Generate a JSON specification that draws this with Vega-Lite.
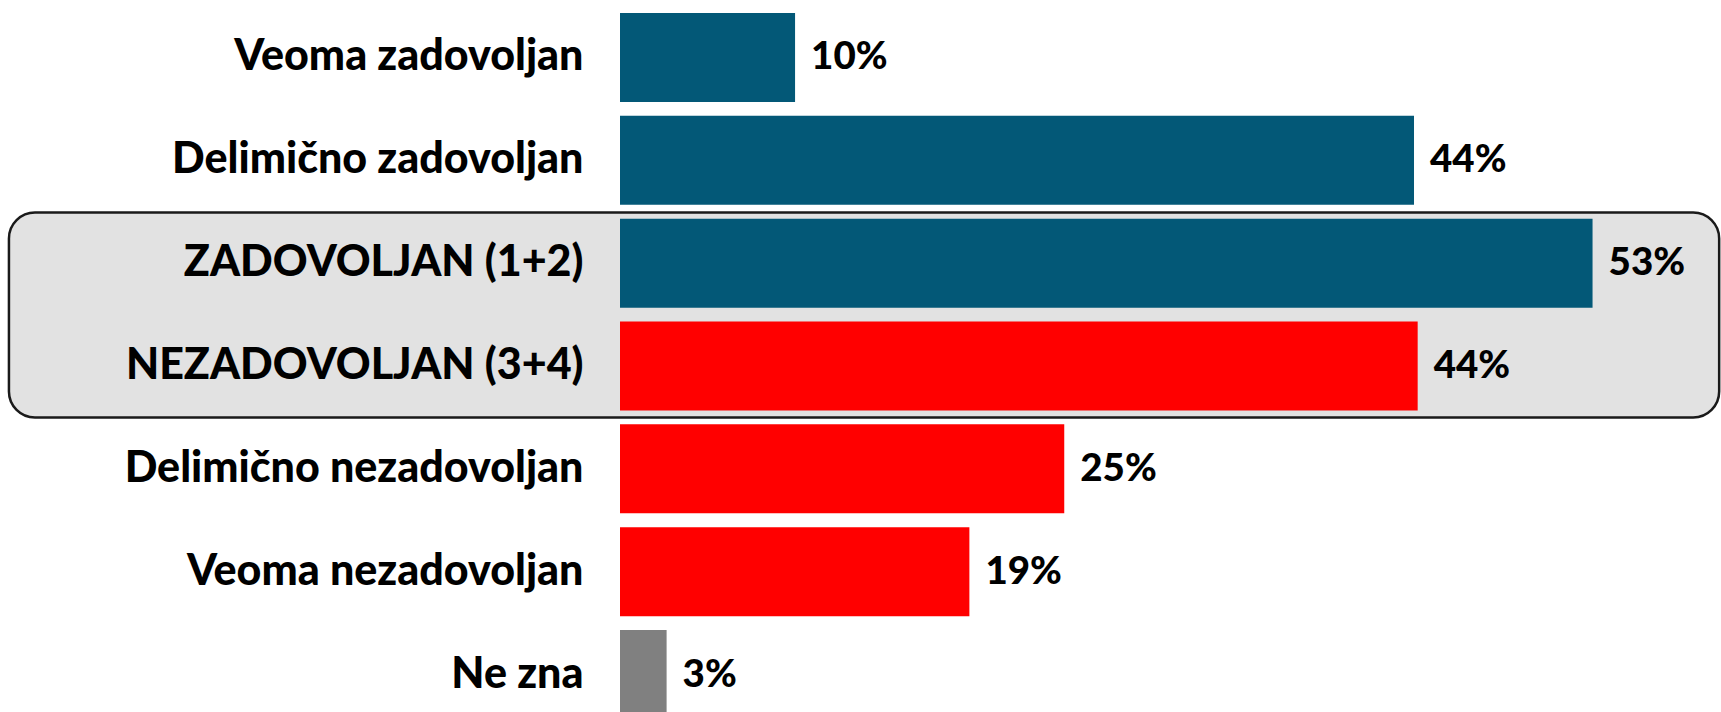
{
  "$schema": "https://vega.github.io/schema/vega-lite/v6.json",
  "width": 1101,
  "height": 706,
  "autosize": "none",
  "padding": {"left": 620, "top": 6, "right": 0, "bottom": 0},
  "background": "white",
  "config": {
    "view": {"stroke": null},
    "axisY": {"labelFont": "Lato", "labelFontWeight": 900, "labelFontSize": 43, "labelColor": "#000000", "labelPadding": 37, "ticks": false, "domain": false, "grid": false, "labelLimit": 0}
  },
  "datasets": {
    "bars": [
      {"cat": "Veoma zadovoljan", "value": 9.54, "label": "10%", "grp": "zadovoljan"},
      {"cat": "Delimično zadovoljan", "value": 43.27, "label": "44%", "grp": "zadovoljan"},
      {"cat": "ZADOVOLJAN (1+2)", "value": 53.0, "label": "53%", "grp": "zadovoljan"},
      {"cat": "NEZADOVOLJAN (3+4)", "value": 43.47, "label": "44%", "grp": "nezadovoljan"},
      {"cat": "Delimično nezadovoljan", "value": 24.21, "label": "25%", "grp": "nezadovoljan"},
      {"cat": "Veoma nezadovoljan", "value": 19.04, "label": "19%", "grp": "nezadovoljan"},
      {"cat": "Ne zna", "value": 2.54, "label": "3%", "grp": "ne zna"}
    ],
    "box": [
      {"from": "ZADOVOLJAN (1+2)", "to": "NEZADOVOLJAN (3+4)", "xmin": -33.3, "xmax": 59.9}
    ]
  },
  "layer": [
    {
      "data": {"name": "box"},
      "mark": {"type": "rect", "cornerRadius": 26, "fill": "#e2e2e2", "stroke": "#1a1a1a", "strokeWidth": 2.5, "clip": false},
      "encoding": {
        "y": {"field": "from", "type": "nominal", "title": null, "bandPosition": -0.07,
              "scale": {"domain": ["Veoma zadovoljan", "Delimično zadovoljan", "ZADOVOLJAN (1+2)", "NEZADOVOLJAN (3+4)", "Delimično nezadovoljan", "Veoma nezadovoljan", "Ne zna"], "paddingInner": 0.135, "paddingOuter": 0.0675, "range": [0, 720]}},
        "y2": {"field": "to", "bandPosition": 1.08},
        "x": {"field": "xmin", "type": "quantitative", "axis": null, "scale": {"domain": [0, 60], "nice": false, "zero": false}},
        "x2": {"field": "xmax"}
      }
    },
    {
      "data": {"name": "bars"},
      "mark": {"type": "bar", "clip": false},
      "encoding": {
        "y": {"field": "cat", "type": "nominal", "title": null,
              "scale": {"domain": ["Veoma zadovoljan", "Delimično zadovoljan", "ZADOVOLJAN (1+2)", "NEZADOVOLJAN (3+4)", "Delimično nezadovoljan", "Veoma nezadovoljan", "Ne zna"], "paddingInner": 0.135, "paddingOuter": 0.0675, "range": [0, 720]}},
        "x": {"field": "value", "type": "quantitative", "axis": null, "scale": {"domain": [0, 60], "nice": false, "zero": false}},
        "color": {"field": "grp", "type": "nominal", "legend": null,
                  "scale": {"domain": ["zadovoljan", "nezadovoljan", "ne zna"], "range": ["#035877", "#ff0000", "#808080"]}}
      }
    },
    {
      "data": {"name": "bars"},
      "mark": {"type": "text", "align": "left", "baseline": "middle", "dx": 16, "font": "Lato", "fontWeight": 900, "fontSize": 38.5, "color": "#000000", "clip": false},
      "encoding": {
        "y": {"field": "cat", "type": "nominal", "title": null,
              "scale": {"domain": ["Veoma zadovoljan", "Delimično zadovoljan", "ZADOVOLJAN (1+2)", "NEZADOVOLJAN (3+4)", "Delimično nezadovoljan", "Veoma nezadovoljan", "Ne zna"], "paddingInner": 0.135, "paddingOuter": 0.0675, "range": [0, 720]}},
        "x": {"field": "value", "type": "quantitative", "axis": null, "scale": {"domain": [0, 60], "nice": false, "zero": false}},
        "text": {"field": "label", "type": "nominal"}
      }
    }
  ]
}
